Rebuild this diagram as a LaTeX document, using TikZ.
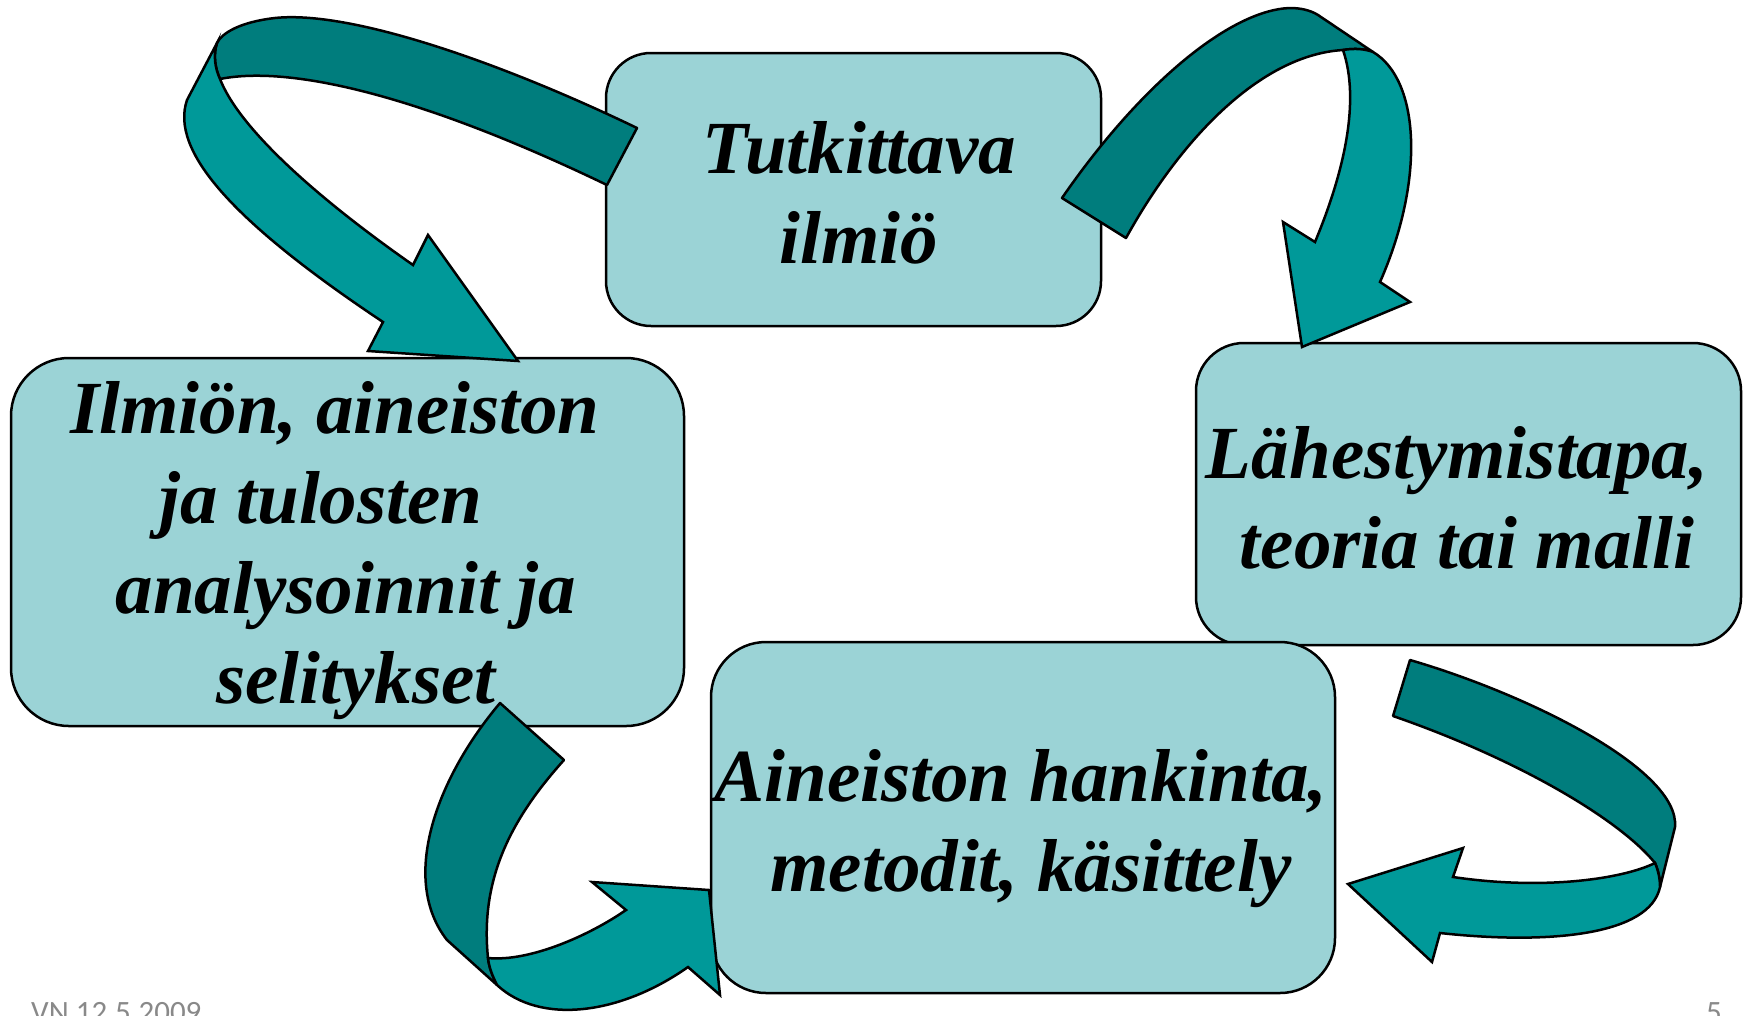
\documentclass[tikz,border=0pt]{standalone}
\usepackage{fontspec}
\setmainfont{Liberation Serif}
\newfontfamily\footfont{Carlito}
\definecolor{boxfill}{RGB}{155,211,214}
\definecolor{arrdark}{RGB}{0,125,125}
\definecolor{arrlight}{RGB}{0,153,153}
\definecolor{footgray}{RGB}{137,137,137}
\tikzset{
  box/.style={draw=black, line width=2.5pt, fill=boxfill, rectangle, inner sep=0pt, outer sep=0pt},
  lbl/.style={font={\fontsize{75}{90}\selectfont\bfseries\itshape}, align=center, inner sep=0pt},
  back/.style={fill=arrdark, draw=black, line width=2.5pt, line join=round},
  front/.style={fill=arrlight, draw=black, line width=2.5pt, line join=miter},
  foot/.style={font={\footfont\fontsize{31}{36}\selectfont}, text=footgray, inner sep=0pt, anchor=base west}
}
\begin{document}
\begin{tikzpicture}[x=1pt,y=-1pt]
\useasboundingbox (0,0) rectangle (1744,1015);
% boxes
\node[box, minimum width=495pt, minimum height=273pt, rounded corners=45pt] (topbox) at (853.5,189.5) {};
\node[box, minimum width=673pt, minimum height=368pt, rounded corners=58pt] (leftbox) at (347.5,542) {};
\node[box, minimum width=545pt, minimum height=302pt, rounded corners=48pt] (rightbox) at (1468.5,494) {};
\node[box, minimum width=624pt, minimum height=351pt, rounded corners=55pt] (botbox) at (1023,817.5) {};
% labels
\node[lbl] (toptext) at (859,192.5) {Tutkittava\\ilmiö};
\node[lbl] (lefttext) at (346,550.5) {\hbox{Ilmiön, aineiston\kern22pt}\\\hbox{ja tulosten\kern50pt}\\analysoinnit ja\\\hbox{\kern20pt selitykset}};
\node[lbl] (righttext) at (1462,498) {\hbox{Lähestymistapa,\kern10pt}\\\hbox{\kern10pt teoria tai malli}};
\node[lbl] (bottext) at (1026,828.5) {\hbox{Aineiston hankinta,\kern10pt}\\\hbox{\kern10pt metodit, käsittely}};
% arrow 1: top box -> left box
\draw[back] (637,128) .. controls (500,62) and (350,10) .. (275,18)
  .. controls (240,22) and (222,33) .. (217,43)
  .. controls (213,55) and (215,68) .. (220,79)
  .. controls (290,65) and (420,95) .. (607,185) -- cycle;
\draw[front] (217,43) -- (187,100) .. controls (170,150) and (230,220) .. (383,322)
  -- (368,351) -- (518,361) -- (428,235) -- (413,265)
  .. controls (320,200) and (240,130) .. (220,79)
  .. controls (215,68) and (213,55) .. (217,43) -- cycle;
% arrow 2: top box -> right box
\draw[back] (1062,198) .. controls (1140,85) and (1230,10) .. (1290,8)
  .. controls (1300,8) and (1310,10) .. (1318,15) -- (1373,52)
  .. controls (1365,49) and (1355,48) .. (1343,50)
  .. controls (1260,55) and (1180,140) .. (1126,238) -- cycle;
\draw[front] (1343,50) .. controls (1355,48) and (1365,49) .. (1373,52)
  .. controls (1420,80) and (1425,180) .. (1380,282)
  -- (1410,302) -- (1302,347) -- (1283,222) -- (1315,242)
  .. controls (1345,170) and (1360,100) .. (1343,50) -- cycle;
% arrow 3: right box -> bottom box
\draw[back] (1410,660) .. controls (1530,695) and (1680,770) .. (1675,827)
  -- (1660,887) .. controls (1660,878) and (1658,870) .. (1655,863)
  .. controls (1620,820) and (1520,760) .. (1393,716) -- cycle;
\draw[front] (1660,887) .. controls (1650,935) and (1550,945) .. (1440,933)
  -- (1432,962) -- (1348,884) -- (1463,848) -- (1453,877)
  .. controls (1540,890) and (1620,880) .. (1655,863)
  .. controls (1658,870) and (1660,878) .. (1660,887) -- cycle;
% arrow 4: left box -> bottom box
\draw[back] (500,703) .. controls (435,780) and (400,880) .. (447,940)
  -- (497,985) .. controls (492,975) and (489,967) .. (488,958)
  .. controls (480,880) and (510,820) .. (564,760) -- cycle;
\draw[front] (488,958) .. controls (530,962) and (590,935) .. (626,910)
  -- (592,882) -- (709,890) -- (720,995) -- (688,967)
  .. controls (620,1015) and (540,1025) .. (497,985)
  .. controls (492,975) and (489,967) .. (488,958) -- cycle;
% footer
\node[foot] (datefoot) at (31,1022) {VN 12.5.2009};
\node[foot] (pagefoot) at (1706,1022) {5};
\end{tikzpicture}
\end{document}
